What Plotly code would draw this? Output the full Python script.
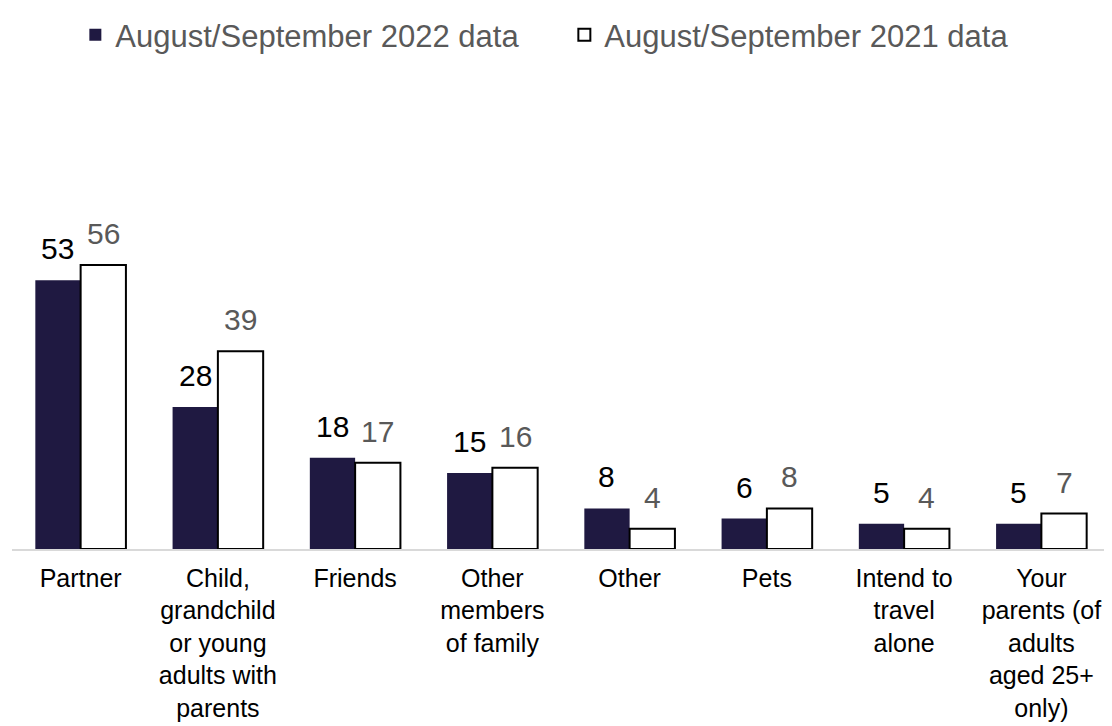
import plotly.graph_objects as go

categories = ["Partner", "Child,<br>grandchild<br>or young<br>adults with<br>parents", "Friends",
              "Other<br>members<br>of family", "Other", "Pets", "Intend to<br>travel<br>alone",
              "Your<br>parents (of<br>adults<br>aged 25+<br>only)"]
values_2022 = [53, 28, 18, 15, 8, 6, 5, 5]
values_2021 = [56, 39, 17, 16, 4, 8, 4, 7]

W, H = 1104, 718
ML, MR = 3.5, 2
BARGAP = 0.34

fig = go.Figure()
fig.add_trace(go.Bar(
    x=categories, y=values_2022, name="August/September 2022 data",
    marker=dict(color="#1f1941", line=dict(width=0)),
))
fig.add_trace(go.Bar(
    x=categories, y=values_2021, name="August/September 2021 data",
    marker=dict(color="#ffffff", line=dict(color="#000000", width=2)),
))

# value labels placed above each bar, offset to the bar's slot in its group
slot_px = (W - ML - MR) / len(categories) * (1 - BARGAP) / 2
for series, shift, color in [(values_2022, -slot_px / 2, "#000000"),
                             (values_2021, slot_px / 2, "#595959")]:
    for cat, v in zip(categories, series):
        fig.add_annotation(x=cat, y=v, text=str(v), showarrow=False,
                           xshift=shift, yshift=13, yanchor="bottom",
                           font=dict(size=30, color=color))

fig.update_layout(
    width=W, height=H,
    margin=dict(l=ML, r=MR, t=186, b=177, autoexpand=False),
    paper_bgcolor="white", plot_bgcolor="white",
    font=dict(family="Liberation Sans, Arial, sans-serif", color="#000000"),
    barmode="group", bargap=BARGAP, bargroupgap=0,
    showlegend=True,
    legend=dict(orientation="h", x=0.061, xanchor="left", xref="container",
                y=1.524, yanchor="top", yref="paper",
                font=dict(size=31, color="#595959"),
                itemwidth=30, entrywidth=444, traceorder="normal"),
    xaxis=dict(showline=True, linecolor="#d9d9d9", linewidth=1.5, ticks="",
               tickfont=dict(size=25, color="#000000"), fixedrange=True,
               automargin=False, ticklabelstandoff=6),
    yaxis=dict(visible=False, range=[0, 70], fixedrange=True),
)
fig.write_html("out.html")
